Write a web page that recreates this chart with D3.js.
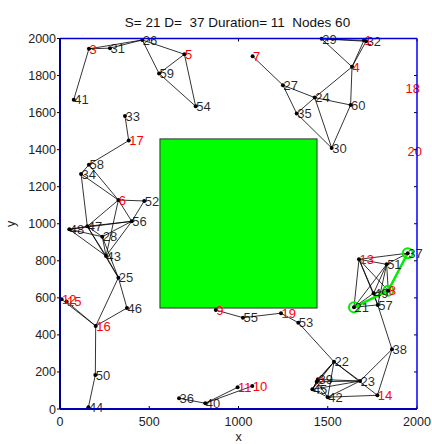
<!DOCTYPE html>
<html>
<head>
<meta charset="utf-8">
<script src="https://cdn.jsdelivr.net/npm/d3@7/dist/d3.min.js"></script>
<style>
  html, body { margin: 0; padding: 0; background: #fff; }
  svg { display: block; font-family: "Liberation Sans", Arial, Helvetica, sans-serif; }
</style>
</head>
<body>
<svg id="chart" width="432" height="444"></svg>
<script>
// Node ids 1..60 with their field coordinates
const nodeIds = d3.range(1, 61);
const nodeX = [1703, 1438, 162, 1636, 697, 327, 1079, 1839, 873, 1077,
               995, 9, 1675, 1778, 37, 200, 385, 1933, 1238, 1944,
               1647, 1535, 1681, 1427, 327, 461, 1249, 237, 1466, 1522,
               280, 1715, 364, 118, 1326, 667, 1948, 1860, 1445, 814,
               77, 1500, 258, 159, 1414, 375, 153, 52, 1757, 198,
               1830, 472, 1335, 760, 1025, 402, 1780, 162, 555, 1628];
const nodeY = [1990, 147, 1944, 1847, 1915, 1128, 1904, 639, 534, 124,
               117, 592, 808, 74, 580, 448, 1449, 1731, 517, 1393,
               549, 255, 151, 1681, 709, 1992, 1748, 930, 1998, 1409,
               1948, 1985, 1582, 1269, 1595, 58, 841, 322, 160, 31,
               1670, 64, 826, 9, 106, 545, 986, 970, 625, 184,
               781, 1123, 466, 1634, 493, 1013, 562, 1319, 1811, 1641];
// Nodes shown only by their label (no marker)
const unmarkedNodes = [18, 20];
// Nodes 1..20 are labelled in red
const redCount = 20;

// Neighbour links
const links = [
  [41,3],[3,31],[3,26],[31,26],[26,59],[26,5],[5,59],[5,54],[59,54],[33,17],[17,58],
  [29,1],[29,32],[29,4],[1,4],[32,4],[4,24],[4,60],[7,27],[27,24],[27,35],[24,60],[24,35],[24,30],[35,30],[60,30],
  [58,34],[58,6],[34,6],[34,47],[6,52],[6,56],[52,56],[6,47],[6,43],[47,56],[48,56],[48,47],[48,28],[47,28],
  [28,56],[43,56],[47,43],[48,43],[28,43],[28,25],[43,25],[47,25],
  [25,16],[25,46],[46,16],[12,16],[15,16],[16,50],[50,44],
  [36,40],[40,11],[40,10],[9,55],[55,19],[19,53],[53,22],
  [22,2],[22,39],[22,45],[22,42],[22,23],[22,14],[2,23],[39,23],[45,23],[42,23],[42,14],[2,42],[45,42],[2,39],[2,45],[39,45],
  [38,23],[38,14],[57,38],
  [13,51],[13,37],[13,49],[13,21],[13,57],[13,8],[51,37],[51,49],[51,21],[51,8],[51,57],[37,8],[8,21],[8,49],[49,21],[49,57],[21,57]
];

// Route from source to destination
const route = [21, 8, 37];

// Obstacle rectangle extents
const obstacleX = [560, 1440];
const obstacleY = [545, 1458];

const xTicks = [0, 500, 1000, 1500, 2000];
const yTicks = [0, 200, 400, 600, 800, 1000, 1200, 1400, 1600, 1800, 2000];
const titleText = "S= 21 D=  37 Duration= 11  Nodes 60";

const svg = d3.select("#chart");
const plotL = 60, plotR = 417, plotT = 38.5, plotB = 409;
const x = d3.scaleLinear().domain([0, 2000]).range([plotL, plotR]);
const y = d3.scaleLinear().domain([0, 2000]).range([plotB, plotT]);

const pos = id => [x(nodeX[id - 1]), y(nodeY[id - 1])];

// Obstacle
svg.append("rect")
  .attr("x", x(obstacleX[0])).attr("y", y(obstacleY[1]))
  .attr("width", x(obstacleX[1]) - x(obstacleX[0]))
  .attr("height", y(obstacleY[0]) - y(obstacleY[1]))
  .attr("fill", "#00ff00").attr("stroke", "#333").attr("stroke-width", 1);

// Links
svg.append("g").selectAll("line").data(links).join("line")
  .attr("x1", d => pos(d[0])[0]).attr("y1", d => pos(d[0])[1])
  .attr("x2", d => pos(d[1])[0]).attr("y2", d => pos(d[1])[1])
  .attr("stroke", "#000").attr("stroke-width", 0.8);

// Route
svg.append("path")
  .attr("d", d3.line()(route.map(pos)))
  .attr("fill", "none").attr("stroke", "#00ee00").attr("stroke-width", 2.5);
svg.append("g").selectAll("circle").data(route).join("circle")
  .attr("cx", d => pos(d)[0]).attr("cy", d => pos(d)[1]).attr("r", 5)
  .attr("fill", "none").attr("stroke", "#00ee00").attr("stroke-width", 2);

// Node markers
svg.append("g").selectAll("circle")
  .data(nodeIds.filter(id => !unmarkedNodes.includes(id))).join("circle")
  .attr("cx", d => pos(d)[0]).attr("cy", d => pos(d)[1]).attr("r", 2)
  .attr("fill", "#000");

// Node labels
svg.append("g").selectAll("text").data(nodeIds).join("text")
  .attr("x", d => pos(d)[0] + 0.5).attr("y", d => pos(d)[1]).attr("dy", "0.36em")
  .attr("font-size", 13)
  .attr("fill", d => d <= redCount ? "#ff0000" : "#000")
  .attr("fill-opacity", d => d <= redCount ? 1 : 0.85)
  .text(d => d);

// Ticks
const tickLen = 3;
const tg = svg.append("g").attr("stroke", "#000").attr("stroke-width", 1);
xTicks.forEach(t => {
  tg.append("line").attr("x1", x(t)).attr("x2", x(t)).attr("y1", plotB).attr("y2", plotB - tickLen);
  tg.append("line").attr("x1", x(t)).attr("x2", x(t)).attr("y1", plotT).attr("y2", plotT + tickLen);
});
yTicks.forEach(t => {
  tg.append("line").attr("x1", plotL - tickLen).attr("x2", plotL).attr("y1", y(t)).attr("y2", y(t));
  tg.append("line").attr("x1", plotR).attr("x2", plotR - tickLen).attr("y1", y(t)).attr("y2", y(t));
});

// Frame
svg.append("line").attr("x1", plotL).attr("x2", plotR).attr("y1", plotT).attr("y2", plotT)
  .attr("stroke", "#0000d0").attr("stroke-width", 1.5);
svg.append("line").attr("x1", plotR).attr("x2", plotR).attr("y1", plotT).attr("y2", plotB)
  .attr("stroke", "#0000ff").attr("stroke-width", 1.5);
svg.append("line").attr("x1", plotL).attr("x2", plotL).attr("y1", plotT).attr("y2", plotB)
  .attr("stroke", "#00008f").attr("stroke-width", 2);
svg.append("line").attr("x1", plotL).attr("x2", plotR).attr("y1", plotB).attr("y2", plotB)
  .attr("stroke", "#0000b0").attr("stroke-width", 2);

// Tick labels
svg.append("g").selectAll("text").data(xTicks).join("text")
  .attr("x", d => x(d)).attr("y", plotB + 17).attr("text-anchor", "middle")
  .attr("font-size", 12.5).attr("fill", "#222").text(d => d);
svg.append("g").selectAll("text").data(yTicks).join("text")
  .attr("x", plotL - 4).attr("y", d => y(d)).attr("dy", "0.36em").attr("text-anchor", "end")
  .attr("font-size", 12.5).attr("fill", "#222").text(d => d);

// Axis titles and chart title
svg.append("text").attr("x", (plotL + plotR) / 2).attr("y", 441).attr("text-anchor", "middle")
  .attr("font-size", 12.5).attr("fill", "#222").text("x");
svg.append("text").attr("transform", `translate(15, ${(plotT + plotB) / 2}) rotate(-90)`)
  .attr("text-anchor", "middle").attr("font-size", 12.5).attr("fill", "#222").text("y");
svg.append("text").attr("x", 237.5).attr("y", 27).attr("text-anchor", "middle")
  .attr("font-size", 13.5).attr("fill", "#111").style("white-space", "pre")
  .text(titleText);
</script>
</body>
</html>
